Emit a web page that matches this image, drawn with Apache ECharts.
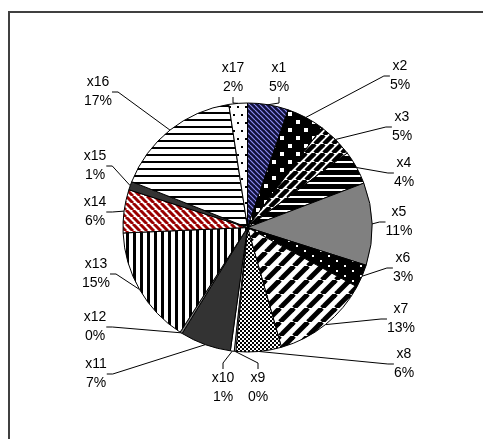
<!DOCTYPE html>
<html>
<head>
<meta charset="utf-8">
<script src="https://cdn.jsdelivr.net/npm/echarts@6/dist/echarts.min.js"></script>
<style>
  html, body { margin: 0; padding: 0; background: #fff; }
  #pie { width: 483px; height: 439px; }
</style>
</head>
<body>
<div id="pie"></div>
<script>
// categories and shares (percent of the whole)
var names = ['x1','x2','x3','x4','x5','x6','x7','x8','x9','x10','x11','x12','x13','x14','x15','x16','x17'];
var shares = [5.3, 4.9, 4.6, 4.4, 10.7, 3.0, 12.7, 5.9, 0.2, 0.5, 6.6, 0.3, 15.2, 5.6, 1.1, 16.6, 2.4];

// where each label block sits (centre, px)
var labelPos = [
    [279, 78], [400, 76], [402, 127], [404, 173], [399, 222], [403, 268],
    [401, 319], [404, 364], [258, 388], [223, 388], [96, 374], [95, 327],
    [96, 274], [95, 212], [95, 166], [98, 92], [233, 78]
];

function pat(w, h, draw) {
    var c = document.createElement('canvas');
    c.width = w; c.height = h;
    var ctx = c.getContext('2d');
    draw(ctx, w, h);
    return { image: c, repeat: 'repeat' };
}
function diag(bg, fg, s, lw, back) {
    return pat(s, s, function (ctx) {
        ctx.fillStyle = bg; ctx.fillRect(0, 0, s, s);
        ctx.strokeStyle = fg; ctx.lineWidth = lw;
        for (var k = -s; k <= s; k += s) {
            ctx.beginPath();
            if (back) { ctx.moveTo(k, 0); ctx.lineTo(k + s, s); }
            else { ctx.moveTo(k, s); ctx.lineTo(k + s, 0); }
            ctx.stroke();
        }
    });
}
function hlines(bg, fg, p, lw) {
    return pat(4, p, function (ctx) {
        ctx.fillStyle = bg; ctx.fillRect(0, 0, 4, p);
        ctx.fillStyle = fg; ctx.fillRect(0, 0, 4, lw);
    });
}
function dots(bg, fg, w, h, sz, pts) {
    return pat(w, h, function (ctx) {
        ctx.fillStyle = bg; ctx.fillRect(0, 0, w, h);
        ctx.fillStyle = fg;
        pts.forEach(function (p) { ctx.fillRect(p[0], p[1], sz, sz); });
    });
}

var fills = [
    diag('#10103a', '#8c8cf0', 5, 1.2, true),               // x1
    dots('#000', '#fff', 16, 16, 4, [[0, 0], [8, 8]]),        // x2
    diag('#fff', '#000', 9, 4.5, false),                     // x3
    hlines('#000', '#fff', 7, 2),                            // x4
    '#808080',                                               // x5
    dots('#000', '#fff', 16, 10, 2, [[0, 0], [8, 5]]),        // x6
    diag('#fff', '#000', 14, 5, false),                      // x7
    dots('#000', '#fff', 4, 4, 2, [[0, 0], [2, 2]]),          // x8
    '#fff',                                                  // x9
    '#fff',                                                  // x10
    '#333',                                                  // x11
    '#808080',                                               // x12
    pat(7, 4, function (ctx) { ctx.fillStyle = '#fff'; ctx.fillRect(0, 0, 7, 4); ctx.fillStyle = '#000'; ctx.fillRect(0, 0, 3, 4); }), // x13
    diag('#fff', '#990000', 7, 3, true),                     // x14
    '#333',                                                  // x15
    hlines('#fff', '#000', 7, 2),                            // x16
    dots('#fff', '#000', 8, 16, 2, [[1, 2], [5, 10]])         // x17
];

var total = shares.reduce(function (a, b) { return a + b; }, 0);

var myChart = echarts.init(document.getElementById('pie'), null, { renderer: 'canvas' });
var option = {
    animation: false,
    graphic: [{
        type: 'polyline',
        shape: { points: [[9, 440], [9, 12], [484, 12]] },
        style: { stroke: '#404040', lineWidth: 2, fill: null }
    }],
    series: [{
        type: 'pie',
        center: [247.5, 227.5],
        radius: 124.5,
        startAngle: 90,
        clockwise: true,
        minAngle: 0,
        avoidLabelOverlap: false,
        data: names.map(function (n, i) {
            return { name: n, value: shares[i], itemStyle: { color: fills[i] } };
        }),
        itemStyle: { borderColor: '#000', borderWidth: 1 },
        label: {
            show: true,
            position: 'outside',
            fontFamily: 'Liberation Sans, Arial, sans-serif',
            fontSize: 14,
            lineHeight: 19,
            color: '#000',
            align: 'center',
            formatter: function (p) {
                return p.name + '\n' + Math.round(p.value / total * 100) + '%';
            }
        },
        labelLine: {
            show: true,
            length: 10,
            length2: 6,
            lineStyle: { color: '#000', width: 1 }
        },
        labelLayout: function (p) {
            var pos = labelPos[p.dataIndex];
            return { x: pos[0], y: pos[1], align: 'center', verticalAlign: 'middle' };
        },
        emphasis: { disabled: true }
    }]
};
myChart.setOption(option);
</script>
</body>
</html>
